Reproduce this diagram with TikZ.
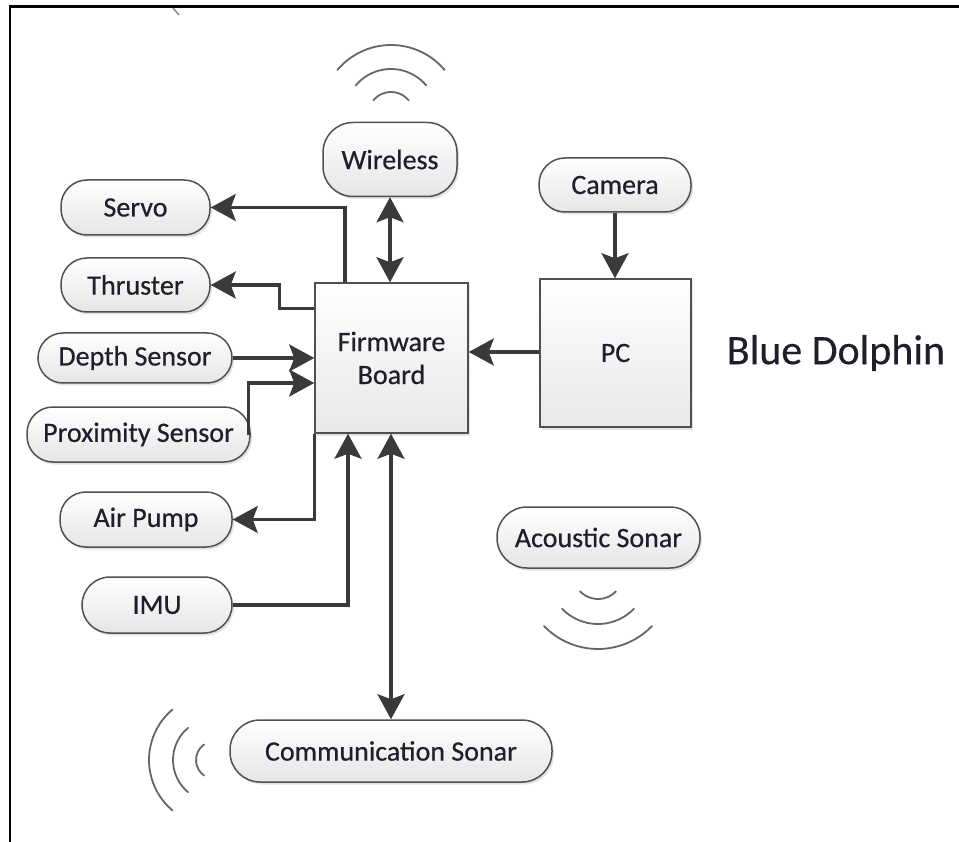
\documentclass[tikz,border=0pt]{standalone}
\usepackage{fontspec}
\setmainfont{Carlito}
\usetikzlibrary{arrows.meta,shadows,calc}
\definecolor{linec}{HTML}{3A3A3A}
\definecolor{edgec}{HTML}{505050}
\definecolor{txtc}{HTML}{1E1E2C}
\definecolor{wavec}{HTML}{666666}
\begin{document}
\begin{tikzpicture}[x=1pt,y=-1pt,
  pill/.style={draw=edgec, line width=1.5pt, top color=white, bottom color=black!10,
     rounded corners=#1, inner sep=0pt, text=txtc,
     font=\fontsize{28}{30}\selectfont\addfontfeature{FakeBold=0.5},
     drop shadow={opacity=0.22, shadow xshift=2pt, shadow yshift=-2.5pt}},
  pill/.default=26pt,
  blockbox/.style={draw=edgec, line width=1.5pt, top color=white, bottom color=black!9,
     inner sep=0pt, text=txtc, align=center,
     font=\fontsize{28}{33}\selectfont\addfontfeature{FakeBold=0.5},
     drop shadow={opacity=0.2, shadow xshift=2pt, shadow yshift=-2.5pt}},
  tip/.tip={Stealth[length=25pt,width=27pt,inset=5pt]},
  arr/.style={draw=linec, line width=3.2pt, -tip},
  dbl/.style={draw=linec, line width=3.2pt, tip-tip},
  wave/.style={draw=wavec, line width=1.8pt, line cap=round}]
\useasboundingbox (0,0) rectangle (959,842);
\fill[white] (0,0) rectangle (959,842);
% frame
\draw[black, line width=2.6pt] (10,842) -- (10,6.5) -- (959,6.5);
\draw[gray, line width=1.4pt] (173,8) -- (179,15);

% blocks
\node[blockbox, minimum width=153pt, minimum height=150pt] (fw) at (391.5,358) {Firmware\\Board};
\node[blockbox, minimum width=151pt, minimum height=148pt] (pc) at (615.5,353) {PC};

% pills
\node[pill=30pt, minimum width=134pt, minimum height=74pt] (wireless) at (390,159.5) {Wireless};
\node[pill, minimum width=149pt, minimum height=55pt] (servo) at (135.5,207.5) {Servo};
\node[pill, minimum width=149pt, minimum height=54pt] (thruster) at (135.5,285) {Thruster};
\node[pill=25pt, minimum width=194pt, minimum height=50pt] (depth) at (135,358) {Depth Sensor};
\node[pill, minimum width=223pt, minimum height=55pt] (prox) at (138.5,434.5) {Proximity Sensor};
\node[pill, minimum width=172pt, minimum height=55pt] (airpump) at (146,519.5) {Air Pump};
\node[pill=28pt, minimum width=150pt, minimum height=56pt] (imu) at (157,605) {IMU};
\node[pill=30pt, minimum width=322pt, minimum height=62pt] (comm) at (391,751) {Communication Sonar};
\node[pill, minimum width=152pt, minimum height=54pt] (camera) at (615,185) {Camera};
\node[pill=30pt, minimum width=203pt, minimum height=61pt] (acoustic) at (598.5,537.5) {Acoustic Sonar};

\node[text=txtc, font=\fontsize{42}{46}\selectfont\addfontfeature{FakeBold=0.3}, inner sep=0pt] (title) at (836,353) {Blue Dolphin};

% connectors
\draw[dbl] (wireless.south) -- (wireless.south |- fw.north);
\draw[arr] ([xshift=-46.5pt]fw.north) |- (servo.east);
\draw[arr] ([yshift=-26pt]fw.north west) -- ++(-35,0) |- (thruster.east);
\draw[arr] (depth.east) -- (depth.east -| fw.west);
\draw[arr] ([xshift=-2pt]prox.east) |- ([yshift=-25pt]fw.west);
\draw[arr] (fw.south west) |- (airpump.east);
\draw[arr] (imu.east) -| ([xshift=-43.5pt]fw.south);
\draw[dbl] (comm.north) -- (comm.north |- fw.south);
\draw[arr] (camera.south) -- (camera.south |- pc.north);
\draw[arr] ([yshift=1pt]pc.west) -- ([yshift=1pt]pc.west -| fw.east);

% wireless waves (y axis points down: visual angle phi = coordinate angle -phi)
\coordinate (wc) at (391,115);
\draw[wave] ($(wc)+(-140:23)$) arc[start angle=-140, end angle=-40, radius=23];
\draw[wave] ($(wc)+(-140:46)$) arc[start angle=-140, end angle=-40, radius=46];
\draw[wave] ($(wc)+(-140:70)$) arc[start angle=-140, end angle=-40, radius=70];

% acoustic waves
\coordinate (ac) at (598,574);
\draw[wave] ($(ac)+(136:25)$) arc[start angle=136, end angle=44, radius=25];
\draw[wave] ($(ac)+(136:50)$) arc[start angle=136, end angle=44, radius=50];
\draw[wave] ($(ac)+(136:75)$) arc[start angle=136, end angle=44, radius=75];

% communication sonar waves
\coordinate (cc) at (215,760);
\draw[wave] ($(cc)+(-125:19)$) arc[start angle=-125, end angle=-235, radius=19];
\draw[wave] ($(cc)+(-130:42)$) arc[start angle=-130, end angle=-230, radius=42];
\draw[wave] ($(cc)+(-130:66)$) arc[start angle=-130, end angle=-230, radius=66];
\end{tikzpicture}
\end{document}
